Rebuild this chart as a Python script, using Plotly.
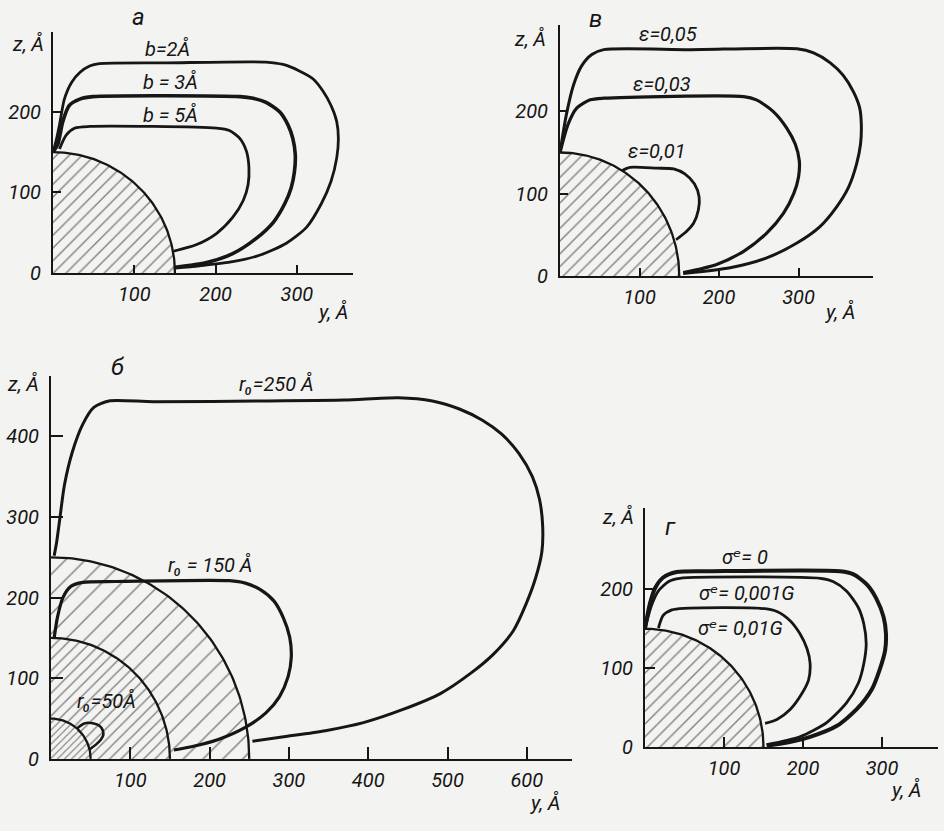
import numpy as np
import plotly.graph_objects as go

W, H = 944, 831
BG = "#f3f3f1"
INK = "#161616"
FONT = "Roboto, DejaVu Sans, Liberation Sans, sans-serif"

# ---------------- Panel а : different b ----------------
a_core_radius = [150]
a_labels = ["b=2Å", "b = 3Å", "b = 5Å"]
a_b2_y = [0, 4, 8, 14, 23, 33, 45, 57, 139, 262, 283, 303, 320, 332, 342, 349, 351, 349, 342, 330, 312, 287, 254, 221, 180, 150]
a_b2_z = [150, 165, 184, 216, 237, 249, 257, 260, 261, 262, 259, 251, 241, 226, 208, 188, 167, 143, 114, 86, 57, 37, 22, 14, 9, 6]
a_b3_y = [0, 6, 12, 20, 33, 49, 230, 246, 262, 279, 289, 295, 298, 297, 293, 285, 271, 250, 221, 189, 150]
a_b3_z = [150, 160, 188, 208, 216, 219, 219, 217, 212, 200, 184, 167, 147, 126, 106, 86, 63, 43, 24, 13, 7]
a_b5_y = [8, 16, 27, 45, 201, 217, 230, 238, 241, 240, 234, 221, 201, 176, 148]
a_b5_z = [154, 171, 180, 182, 180, 177, 167, 151, 131, 110, 90, 69, 49, 35, 27]
a_xticks = [100, 200, 300]
a_yticks = [0, 100, 200]

# ---------------- Panel в : different epsilon ----------------
v_core_radius = [150]
v_labels = ["ε=0,05", "ε=0,03", "ε=0,01"]
v_e05_y = [0, 8, 17, 27, 40, 55, 164, 298, 319, 340, 356, 369, 377, 379, 378, 373, 363, 348, 327, 298, 260, 214, 155]
v_e05_z = [150, 196, 232, 255, 269, 275, 275, 276, 271, 259, 244, 224, 204, 184, 160, 136, 108, 84, 60, 40, 22, 10, 3]
v_e03_y = [0, 10, 21, 38, 55, 231, 247, 268, 285, 296, 301, 300, 294, 281, 260, 231, 197, 155]
v_e03_z = [150, 184, 204, 214, 216, 218, 214, 200, 180, 160, 140, 120, 100, 76, 52, 30, 14, 4]
v_e01_y = [78, 88, 122, 143, 157, 169, 175, 174, 168, 159, 146]
v_e01_z = [128, 132, 131, 130, 124, 112, 96, 80, 64, 54, 44]
v_xticks = [100, 200, 300]
v_yticks = [0, 100, 200]

# ---------------- Panel б : different r0 ----------------
b_core_radii = [250, 150, 50]
b_labels = ["r₀=250 Å", "r₀ = 150 Å", "r₀=50Å"]
b_r250_y = [4, 7, 11, 17, 27, 40, 54, 73, 129, 274, 370, 438, 481, 515, 544, 568, 590, 607, 616, 620, 619, 611, 599, 583, 558, 529, 491, 443, 394, 346, 298, 254]
b_r250_z = [252, 268, 297, 340, 381, 415, 436, 444, 443, 444, 445, 448, 444, 434, 420, 403, 379, 350, 322, 289, 257, 224, 192, 159, 130, 106, 81, 61, 45, 35, 28, 22]
b_r150_y = [4, 8, 15, 25, 40, 81, 225, 245, 264, 281, 293, 301, 303, 299, 288, 271, 245, 211, 177, 155]
b_r150_z = [150, 175, 200, 214, 219, 220, 221, 218, 210, 196, 175, 151, 126, 102, 77, 57, 39, 24, 15, 11]
b_r50_y = [33, 42, 54, 61, 65, 66, 63, 57, 49]
b_r50_z = [38, 44, 44, 41, 36, 30, 24, 18, 12]
b_xticks = [100, 200, 300, 400, 500, 600]
b_yticks = [0, 100, 200, 300, 400]

# ---------------- Panel г : different sigma ----------------
g_core_radius = [150]
g_labels = ["σᵉ= 0", "σᵉ= 0,001G", "σᵉ= 0,01G"]
g_s0_y = [0, 6, 13, 23, 40, 86, 247, 264, 281, 293, 302, 305, 304, 297, 287, 268, 243, 209, 171, 154]
g_s0_z = [150, 181, 202, 215, 222, 223, 223, 219, 206, 188, 165, 144, 123, 98, 73, 48, 27, 13, 4, 2]
g_s1_y = [0, 8, 17, 30, 44, 222, 238, 255, 270, 277, 280, 277, 270, 255, 230, 196, 154]
g_s1_z = [150, 179, 198, 210, 214, 214, 210, 198, 177, 156, 131, 106, 81, 56, 31, 13, 3]
g_s2_y = [17, 23, 34, 49, 146, 167, 184, 196, 205, 209, 207, 198, 184, 167, 152]
g_s2_z = [151, 167, 174, 176, 176, 172, 160, 144, 125, 106, 85, 67, 48, 35, 30]
g_xticks = [100, 200, 300]
g_yticks = [0, 100, 200]

panel_letters = ["а", "в", "б", "г"]


def fx(px):
    return px / W


def fy(py):
    return 1 - py / H


def arc(r, n=90):
    t = np.linspace(0, np.pi / 2, n)
    return r * np.cos(t), r * np.sin(t)


fig = go.Figure()


def add_core(r, ax, hatch_size, lw=1.4):
    x, y = arc(r)
    xs = [0] + list(x) + [0]
    ys = [0] + list(y) + [0]
    fig.add_trace(go.Scatter(
        x=xs, y=ys, xaxis="x" + ax, yaxis="y" + ax, mode="lines",
        fill="toself", fillcolor=BG,
        fillpattern=dict(shape="/", size=hatch_size, solidity=lw / hatch_size, fgcolor=INK, bgcolor=BG),
        line=dict(width=0, color=BG), hoverinfo="skip", showlegend=False))


def add_arc(r, ax, width=2.3):
    x, y = arc(r)
    fig.add_trace(go.Scatter(
        x=x, y=y, xaxis="x" + ax, yaxis="y" + ax, mode="lines",
        line=dict(width=width, color=INK), hoverinfo="skip", showlegend=False))


def add_curve(yv, zv, ax, width=3, name=""):
    fig.add_trace(go.Scatter(
        x=yv, y=zv, xaxis="x" + ax, yaxis="y" + ax, mode="lines", name=name,
        line=dict(width=width, color=INK, shape="spline", smoothing=0.7),
        showlegend=False))


# panel а (axis 1)
add_core(a_core_radius[0], "", 9)
add_arc(a_core_radius[0], "")
add_curve(a_b2_y, a_b2_z, "", 2.8, a_labels[0])
add_curve(a_b3_y, a_b3_z, "", 3.6, a_labels[1])
add_curve(a_b5_y, a_b5_z, "", 2.8, a_labels[2])

# panel в (axis 2)
add_core(v_core_radius[0], "2", 9)
add_arc(v_core_radius[0], "2")
add_curve(v_e05_y, v_e05_z, "2", 3.0, v_labels[0])
add_curve(v_e03_y, v_e03_z, "2", 3.2, v_labels[1])
add_curve(v_e01_y, v_e01_z, "2", 2.8, v_labels[2])

# panel б (axis 3)
add_core(b_core_radii[0], "3", 14, 1.5)
add_core(b_core_radii[1], "3", 8)
add_core(b_core_radii[2], "3", 5, 1.1)
for r in b_core_radii:
    add_arc(r, "3")
add_curve(b_r250_y, b_r250_z, "3", 3.0, b_labels[0])
add_curve(b_r150_y, b_r150_z, "3", 3.2, b_labels[1])
add_curve(b_r50_y, b_r50_z, "3", 2.6, b_labels[2])

# panel г (axis 4)
add_core(g_core_radius[0], "4", 9)
add_arc(g_core_radius[0], "4")
add_curve(g_s0_y, g_s0_z, "4", 4.0, g_labels[0])
add_curve(g_s1_y, g_s1_z, "4", 2.8, g_labels[1])
add_curve(g_s2_y, g_s2_z, "4", 2.8, g_labels[2])

tickfont = dict(family=FONT, size=20, color=INK, style="italic")

# pixel geometry in the window: origin px, axis end px, scale (px per unit)
panels = {
    "": dict(ox=53, oy=277, xend=353, ytop=32, sx=0.813, sz=0.817, xt=a_xticks, yt=a_yticks, tl=8),
    "2": dict(ox=560, oy=280, xend=873, ytop=25, sx=0.795, sz=0.835, xt=v_xticks, yt=v_yticks, tl=8),
    "3": dict(ox=51, oy=770, xend=572, ytop=382, sx=0.793, sz=0.818, xt=b_xticks, yt=b_yticks, tl=12),
    "4": dict(ox=645, oy=758, xend=938, ytop=515, sx=0.79, sz=0.80, xt=g_xticks, yt=g_yticks, tl=10),
}

layout_axes = {}
for key, p in panels.items():
    xr = (p["xend"] - p["ox"]) / p["sx"]
    yr = (p["oy"] - p["ytop"]) / p["sz"]
    layout_axes["xaxis" + key] = dict(
        domain=[fx(p["ox"]), fx(p["xend"])], range=[0, xr], anchor="y" + key,
        showline=True, linecolor=INK, linewidth=2, ticks="inside", ticklen=p["tl"],
        tickwidth=1.5, tickcolor=INK, tickvals=p["xt"], showgrid=False, zeroline=False,
        tickfont=tickfont, ticklabelstandoff=2, fixedrange=True)
    layout_axes["yaxis" + key] = dict(
        domain=[fy(p["oy"]), fy(p["ytop"])], range=[0, yr], anchor="x" + key,
        showline=True, linecolor=INK, linewidth=2, ticks="inside", ticklen=p["tl"],
        tickwidth=1.5, tickcolor=INK, tickvals=p["yt"], showgrid=False, zeroline=False,
        tickfont=tickfont, ticklabelstandoff=6, fixedrange=True)

ann_font = dict(family=FONT, size=20, color=INK, style="italic")
letter_font = dict(family=FONT, size=24, color=INK, style="italic")

annotations = []


def ann(text, px, py, font=ann_font):
    annotations.append(dict(text=text, x=fx(px), y=fy(py), xref="paper", yref="paper",
                            xanchor="center", yanchor="middle", showarrow=False, font=font))


# panel letters
ann(panel_letters[0], 138, 17, letter_font)
ann(panel_letters[1], 595, 19, letter_font)
ann(panel_letters[2], 117, 372, letter_font)
ann(panel_letters[3], 670, 535, letter_font)

# axis titles
for (zx, zy), (yx, yy) in [((28, 45), (333, 317)), ((530, 40), (840, 317)),
                           ((23, 390), (545, 815)), ((618, 525), (906, 802))]:
    ann("z, Å", zx, zy)
    ann("y, Å", yx, yy)

# curve labels
ann(a_labels[0], 167, 50)
ann(a_labels[1], 170, 83)
ann(a_labels[2], 170, 117)
ann(v_labels[0], 668, 35)
ann(v_labels[1], 662, 85)
ann(v_labels[2], 657, 153)
ann(b_labels[0], 276, 390)
ann(b_labels[1], 210, 573)
ann(b_labels[2], 106, 711)
ann(g_labels[0], 745, 565)
ann(g_labels[1], 747, 602)
ann(g_labels[2], 740, 637)

fig.update_layout(
    width=W, height=H, autosize=False,
    margin=dict(l=0, r=0, t=0, b=0, pad=0),
    paper_bgcolor=BG, plot_bgcolor=BG,
    showlegend=False,
    annotations=annotations,
    **layout_axes,
)

fig.write_html(
    "out.html",
    config={"displayModeBar": False},
    post_script="document.body.style.margin='0';document.body.style.background='%s';" % BG,
)
